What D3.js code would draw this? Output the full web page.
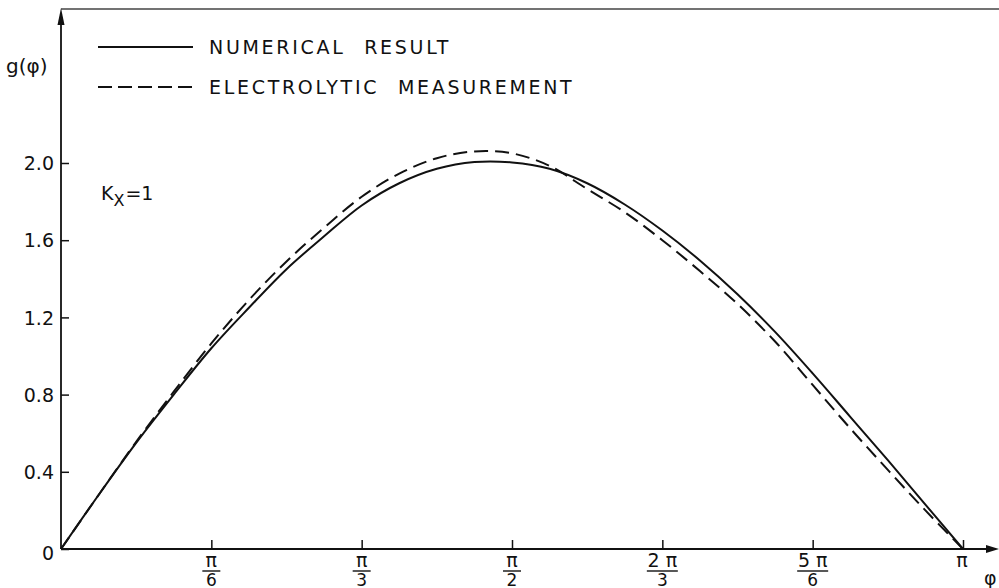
<!DOCTYPE html>
<html>
<head>
<meta charset="utf-8">
<script src="https://cdn.jsdelivr.net/npm/d3@7"></script>
<style>
  body { margin: 0; background: #fff; }
  svg { display: block; }
  text { font-family: "DejaVu Sans", "Liberation Sans", sans-serif; fill: #111; }
</style>
</head>
<body>
<div id="chart"></div>
<script>
'use strict';

// phi is given as a fraction of pi (steps of pi/24)
const phiValues = [0, 1 / 24, 2 / 24, 3 / 24, 4 / 24, 5 / 24, 6 / 24, 7 / 24, 8 / 24, 9 / 24, 10 / 24, 11 / 24,
    12 / 24, 13 / 24, 14 / 24, 15 / 24, 16 / 24, 17 / 24, 18 / 24, 19 / 24, 20 / 24, 21 / 24, 22 / 24, 23 / 24, 1];
const gNumerical = [0, 0.28, 0.55, 0.80, 1.04, 1.25, 1.45, 1.62, 1.78, 1.895, 1.97, 2.005,
    2.003, 1.97, 1.895, 1.785, 1.65, 1.495, 1.32, 1.125, 0.91, 0.685, 0.46, 0.23, 0];
const gElectrolytic = [0, 0.28, 0.555, 0.815, 1.065, 1.29, 1.49, 1.665, 1.825, 1.945, 2.025, 2.06,
    2.05, 1.985, 1.865, 1.745, 1.60, 1.44, 1.27, 1.075, 0.85, 0.625, 0.41, 0.20, 0];

const xTicks = [1 / 6, 1 / 3, 1 / 2, 2 / 3, 5 / 6, 1];
const xTickNumer = ['π', 'π', 'π', '2 π', '5 π', 'π'];
const xTickDenom = ['6', '3', '2', '3', '6', ''];
const yTicks = [0, 0.4, 0.8, 1.2, 1.6, 2.0];
const yTickLabels = ['0', '0.4', '0.8', '1.2', '1.6', '2.0'];

const legendLabels = ['NUMERICAL RESULT', 'ELECTROLYTIC MEASUREMENT'];

const width = 999, height = 588;

const svg = d3.select('#chart').append('svg')
    .attr('width', width)
    .attr('height', height);

const x = d3.scaleLinear().domain([0, 1]).range([61, 963]);
const y = d3.scaleLinear().domain([0, 2]).range([549, 163]);

const ink = '#111';
const fontSize = 19;

// top frame line of the scan
svg.append('line')
    .attr('x1', x(0)).attr('y1', 9)
    .attr('x2', width).attr('y2', 9)
    .attr('stroke', '#444').attr('stroke-width', 1.3);

// y axis
const yAxis = d3.axisLeft(y)
    .tickValues(yTicks)
    .tickFormat((d, i) => yTickLabels[i])
    .tickSizeInner(-8)
    .tickSizeOuter(0)
    .tickPadding(7);

const yg = svg.append('g')
    .attr('transform', `translate(${x(0)},0)`)
    .call(yAxis);
yg.select('.domain').remove();
yg.selectAll('.tick line').attr('stroke', ink).attr('stroke-width', 1.5);
yg.selectAll('.tick text')
    .attr('font-size', fontSize)
    .attr('font-family', 'DejaVu Sans, sans-serif')
    .attr('fill', ink)
    .attr('dy', (d) => d === 0 ? '0.55em' : '0.35em');

svg.append('line')
    .attr('x1', x(0)).attr('y1', y(0))
    .attr('x2', x(0)).attr('y2', 20)
    .attr('stroke', ink).attr('stroke-width', 1.8);
svg.append('path')
    .attr('d', `M${x(0)},8 L${x(0) - 3.5},25 L${x(0) + 3.5},25 Z`)
    .attr('fill', ink);

// x axis
const xAxis = d3.axisBottom(x)
    .tickValues(xTicks)
    .tickFormat('')
    .tickSizeInner(-9)
    .tickSizeOuter(0);

const xg = svg.append('g')
    .attr('transform', `translate(0,${y(0)})`)
    .call(xAxis);
xg.select('.domain').remove();
xg.selectAll('.tick line').attr('stroke', ink).attr('stroke-width', 1.5);

svg.append('line')
    .attr('x1', x(0)).attr('y1', y(0))
    .attr('x2', 990).attr('y2', y(0))
    .attr('stroke', ink).attr('stroke-width', 1.8);
svg.append('path')
    .attr('d', `M999,${y(0)} L986,${y(0) - 4} L986,${y(0) + 4} Z`)
    .attr('fill', ink);

// fraction tick labels
xTicks.forEach((t, i) => {
    var cx = x(t);
    var g = svg.append('g');
    if (xTickDenom[i]) {
        g.append('text')
            .attr('x', cx).attr('y', 567)
            .attr('text-anchor', 'middle')
            .attr('font-size', fontSize)
            .text(xTickNumer[i]);
        var w = xTickNumer[i].length > 1 ? 31 : 18;
        g.append('line')
            .attr('x1', cx - w / 2).attr('x2', cx + w / 2)
            .attr('y1', 571).attr('y2', 571)
            .attr('stroke', ink).attr('stroke-width', 1.4);
        g.append('text')
            .attr('x', cx).attr('y', 586)
            .attr('text-anchor', 'middle')
            .attr('font-size', fontSize - 2)
            .text(xTickDenom[i]);
    } else {
        g.append('text')
            .attr('x', cx - 1).attr('y', 567)
            .attr('text-anchor', 'middle')
            .attr('font-size', fontSize)
            .text(xTickNumer[i]);
    }
});

// axis titles
svg.append('text')
    .attr('x', 6).attr('y', 73)
    .attr('font-size', 20)
    .text('g(φ)');

svg.append('text')
    .attr('x', 984).attr('y', 585)
    .attr('font-size', fontSize)
    .text('φ');

// K_x = 1
const kx = svg.append('text')
    .attr('x', 101).attr('y', 200)
    .attr('font-size', fontSize);
kx.append('tspan').text('K');
kx.append('tspan').attr('font-size', 16).attr('dy', 6).text('X');
kx.append('tspan').attr('dy', -6).attr('dx', 1).text('=1');

// curves
const line = d3.line()
    .x((d) => x(d[0]))
    .y((d) => y(d[1]))
    .curve(d3.curveCatmullRom.alpha(0.5));

const numerical = phiValues.map((p, i) => [p, gNumerical[i]]);
const electrolytic = phiValues.map((p, i) => [p, gElectrolytic[i]]);

svg.append('path')
    .datum(electrolytic)
    .attr('d', line)
    .attr('fill', 'none')
    .attr('stroke', ink)
    .attr('stroke-width', 2)
    .attr('stroke-dasharray', '14 7');

svg.append('path')
    .datum(numerical)
    .attr('d', line)
    .attr('fill', 'none')
    .attr('stroke', ink)
    .attr('stroke-width', 2);

// legend
const legendY = [47, 87];
legendLabels.forEach((label, i) => {
    svg.append('line')
        .attr('x1', 98).attr('x2', 193)
        .attr('y1', legendY[i]).attr('y2', legendY[i])
        .attr('stroke', ink)
        .attr('stroke-width', 1.8)
        .attr('stroke-dasharray', i === 1 ? '14 6' : null);
    svg.append('text')
        .attr('x', 209).attr('y', legendY[i] + 7)
        .attr('font-size', fontSize)
        .attr('letter-spacing', 2.7)
        .attr('word-spacing', 10)
        .text(label);
});
</script>
</body>
</html>
